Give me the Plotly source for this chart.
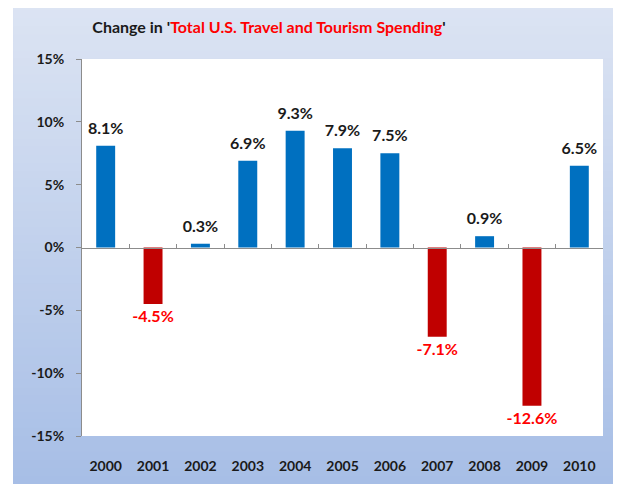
import plotly.graph_objects as go

years = ["2000", "2001", "2002", "2003", "2004", "2005", "2006", "2007", "2008", "2009", "2010"]
change_pct = [8.1, -4.5, 0.3, 6.9, 9.3, 7.9, 7.5, -7.1, 0.9, -12.6, 6.5]
y_ticks = [-15, -10, -5, 0, 5, 10, 15]

POS_BAR, NEG_BAR = "#0070C0", "#C00000"
POS_TXT, NEG_TXT = "#1a1a1a", "#FF0000"
FONT = "Lato"

bar_colors = [POS_BAR if v >= 0 else NEG_BAR for v in change_pct]

fig = go.Figure()
fig.add_trace(go.Bar(
    x=years, y=change_pct, marker=dict(color=bar_colors, line=dict(width=0)),
    width=0.4, showlegend=False, hoverinfo="skip",
))
# invisible trace to carry the zero-line category axis
fig.add_trace(go.Bar(x=years, y=[0] * len(years), xaxis="x2", opacity=0,
                     showlegend=False, hoverinfo="skip"))

# data labels as text traces (transparent markers give the offset from the bar end)
pos_x = [x for x, v in zip(years, change_pct) if v >= 0]
pos_y = [v for v in change_pct if v >= 0]
neg_x = [x for x, v in zip(years, change_pct) if v < 0]
neg_y = [v for v in change_pct if v < 0]
fig.add_trace(go.Scatter(
    x=pos_x, y=pos_y, mode="markers+text", text=["%.1f%%" % v for v in pos_y],
    marker=dict(size=11, color="rgba(0,0,0,0)"),
    textposition="top center", cliponaxis=False, showlegend=False, hoverinfo="skip",
    textfont=dict(size=16, family=FONT, weight="bold", color=POS_TXT),
))
fig.add_trace(go.Scatter(
    x=neg_x, y=neg_y, mode="markers+text", text=["%.1f%%" % v for v in neg_y],
    marker=dict(size=8, color="rgba(0,0,0,0)"),
    textposition="bottom center", cliponaxis=False, showlegend=False, hoverinfo="skip",
    textfont=dict(size=16, family=FONT, weight="bold", color=NEG_TXT),
))

# background gradient stripes (panel) + white plot area
top_c = (220, 228, 243)
bot_c = (167, 190, 230)
n = 60
y_top, y_bot = 1.151, -0.1273
x_left, x_right = -0.1324, 1.2
shapes = [dict(type="rect", xref="paper", yref="paper", x0=-0.3, x1=x_left, y0=-0.3, y1=1.3,
               fillcolor="white", line=dict(width=0), layer="below")]
for i in range(n):
    t = i / (n - 1)
    c = tuple(round(top_c[k] + (bot_c[k] - top_c[k]) * t) for k in range(3))
    y1 = y_top - (y_top - y_bot) * i / n
    y0 = y_top - (y_top - y_bot) * (i + 1) / n - 0.002
    shapes.append(dict(type="rect", xref="paper", yref="paper", x0=x_left, x1=x_right,
                       y0=y0, y1=y1, fillcolor="rgb(%d,%d,%d)" % c, line=dict(width=0),
                       layer="below"))
shapes.append(dict(type="rect", xref="x domain", yref="y domain", x0=0, x1=1, y0=0, y1=1,
                   fillcolor="white", line=dict(width=0), layer="below"))

W, H = 613, 476
fig.update_layout(
    width=W, height=H,
    margin=dict(l=74, r=18, t=51, b=48),
    paper_bgcolor="#c3d1ec", plot_bgcolor="rgba(0,0,0,0)",
    shapes=shapes,
    font=dict(family=FONT, color=POS_TXT),
    title=dict(
        text="Change in '<span style='color:#FF0000'>Total U.S. Travel and Tourism Spending</span>'",
        font=dict(size=16, family=FONT, weight="bold", color="#1a1a1a"),
        x=261 / W, xanchor="center", xref="container",
        y=1 - 19 / H, yanchor="middle", yref="container",
    ),
    xaxis=dict(
        type="category", range=[-0.5, 10.5], showgrid=False, showline=False, ticks="",
        tickfont=dict(size=14, family=FONT, weight="bold", color="#1a1a1a"),
        ticklabelstandoff=20, zeroline=False, automargin=False,
    ),
    xaxis2=dict(
        type="category", overlaying="x", matches="x", anchor="free", position=0.5,
        showline=True, linecolor="#8c8c8c", linewidth=1, ticks="inside", ticklen=4,
        tickcolor="#8c8c8c", tickson="boundaries", showticklabels=False, showgrid=False,
        zeroline=False,
    ),
    yaxis=dict(
        range=[-15, 15], tickvals=y_ticks, ticktext=["%d%%" % v for v in y_ticks],
        showgrid=False, zeroline=False, showline=True, linecolor="#8c8c8c", linewidth=1,
        ticks="outside", ticklen=5, tickcolor="#8c8c8c",
        tickfont=dict(size=14, family=FONT, weight="bold", color="#1a1a1a"),
        ticklabelstandoff=9, automargin=False,
    ),
    bargap=0.6,
)

fig.write_html("out.html")
